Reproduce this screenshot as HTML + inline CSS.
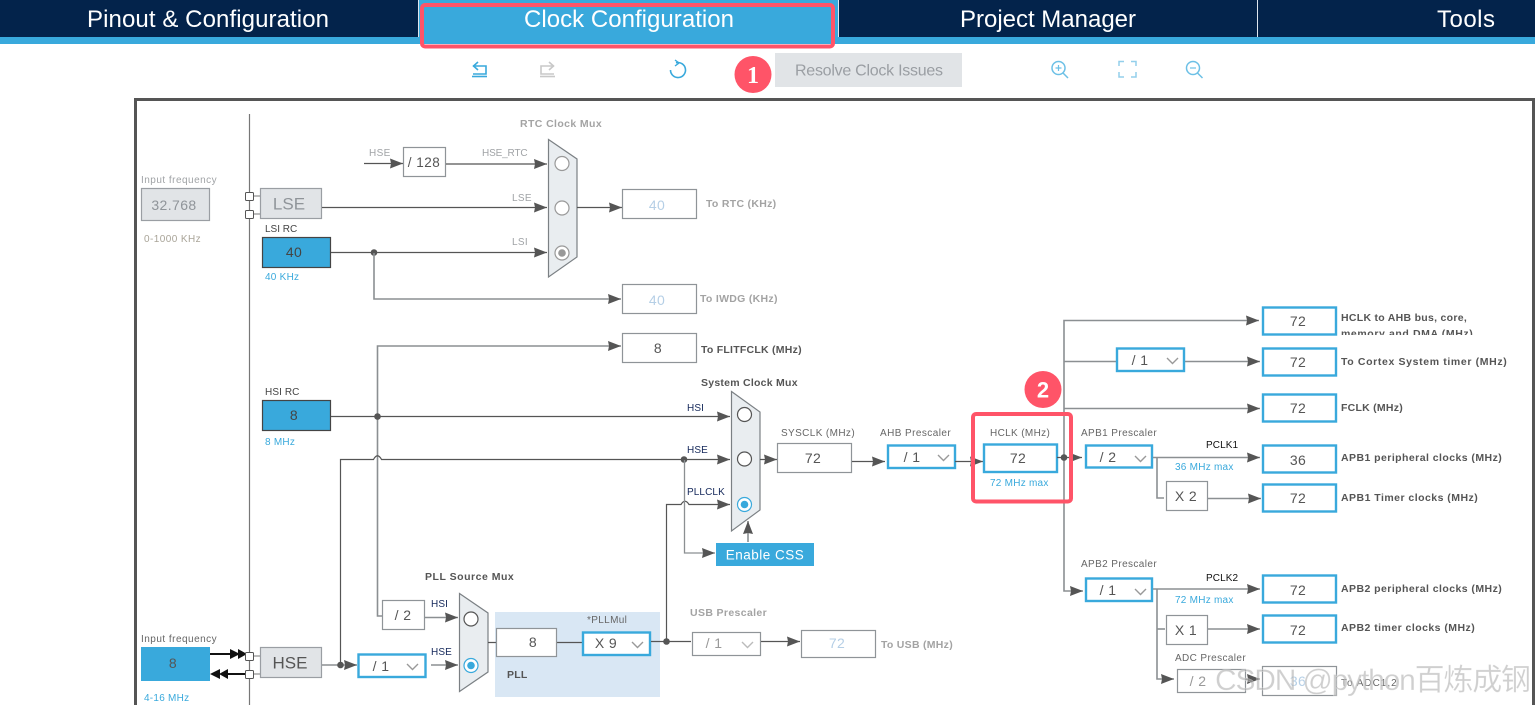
<!DOCTYPE html>
<html><head><meta charset="utf-8"><title>Clock Configuration</title>
<style>
html,body{margin:0;padding:0;background:#fff;width:1535px;height:705px;overflow:hidden}
svg{display:block}
text{font-family:"Liberation Sans","Noto Sans CJK SC",sans-serif}
.t{font-size:24px;fill:#fff}
.s{font-size:10px;fill:#666;letter-spacing:.35px}
.g{font-size:10px;fill:#a0a3a6;letter-spacing:.35px}
.n{font-size:10px;fill:#14285a;letter-spacing:.1px}
.bl{font-size:10px;fill:#39a9dc;letter-spacing:.25px}
.b{font-size:10.5px;font-weight:bold;fill:#555;letter-spacing:.25px}
.bg{font-size:10.5px;font-weight:bold;fill:#a3a3a3;letter-spacing:.3px}
.v{font-size:14px;fill:#555;text-anchor:middle;letter-spacing:.4px}
.vf{font-size:14px;fill:#b5cfe6;text-anchor:middle;letter-spacing:.4px}
.l{fill:none;stroke:#555;stroke-width:1.2}
.m{fill:none;stroke:#8b8f92;stroke-width:1.6}
.bx{fill:#fff;stroke:#8f9498;stroke-width:1.2}
.sel{fill:#fff;stroke:#39a9dc;stroke-width:2.4}
.mux{fill:#e9edf0;stroke:#7b8084;stroke-width:1.2}
.r{fill:#fff;stroke:#555;stroke-width:1.2}
.chev{fill:none;stroke:#999;stroke-width:1.4}
</style></head><body>
<svg width="1535" height="705" viewBox="0 0 1535 705" xmlns="http://www.w3.org/2000/svg">
<defs>
<marker id="a" markerUnits="userSpaceOnUse" markerWidth="14" markerHeight="10" refX="13" refY="5" orient="auto"><path d="M0 0L13 5L0 10L1 5Z" fill="#555"/></marker>
<clipPath id="c1"><rect x="1340" y="305" width="190" height="30"/></clipPath>
</defs>

<!-- header -->
<rect width="1535" height="37" fill="#03234b"/>
<rect y="37" width="1535" height="7" fill="#39a9dc"/>
<rect x="419" width="419" height="44" fill="#39a9dc"/>
<rect x="418" width="1" height="37" fill="#dfe6ee"/>
<rect x="838" width="1" height="37" fill="#dfe6ee"/>
<rect x="1257" width="1" height="37" fill="#dfe6ee"/>
<text class="t" x="87" y="27" textLength="242">Pinout &amp; Configuration</text>
<text class="t" x="524" y="27" textLength="210">Clock Configuration</text>
<text class="t" x="960" y="27" textLength="176">Project Manager</text>
<text class="t" x="1437" y="27" textLength="58">Tools</text>
<rect x="422" y="5" width="411" height="41.500" rx="3" fill="none" stroke="#ff5468" stroke-width="4"/>

<!-- toolbar -->
<g fill="none" stroke="#39a9dc" stroke-width="1.6">
<path d="M473 66H486V74H473"/><path d="M478 62L473.500 66L478 70"/><path d="M472 76.500H487"/>
<path d="M670.500 70A7.500 7.500 0 1 0 676 62.800"/><path d="M675 60L679 63L675 66" stroke-width="1.400"/>
</g>
<g fill="none" stroke="#c8c8c8" stroke-width="1.6">
<path d="M554 66H541V74H554"/><path d="M549 62L553.500 66L549 70"/><path d="M540 76.500H555"/>
</g>
<g fill="none" stroke="#6cc0e6" stroke-width="1.500">
<circle cx="1058.500" cy="68" r="6.500"/><path d="M1063 73L1068 78"/><path d="M1055.500 68H1061.500M1058.500 65V71" stroke-width="1.200"/>
<path d="M1119 66V61.500H1124M1131 61.500H1136V66M1136 72V77H1131M1124 77H1119V72" stroke="#93cfeb"/>
<circle cx="1193" cy="68" r="6.500"/><path d="M1197.500 73L1202.500 78"/><path d="M1190 68H1196" stroke-width="1.200"/>
</g>
<rect x="775" y="53" width="187" height="34" fill="#e1e4e7"/>
<text x="795" y="75.500" font-size="16" fill="#9a9ea3" textLength="148">Resolve Clock Issues</text>
<circle cx="753" cy="74.500" r="18.500" fill="#ff5468"/>
<text x="753" y="83" font-size="24" font-weight="bold" fill="#fff" text-anchor="middle" style="font-family:'Liberation Serif',serif">1</text>

<!-- frame -->
<path d="M135.500 705V99.500H1533.500V705" fill="none" stroke="#555" stroke-width="3"/>
<path d="M249.500 114V705" stroke="#777" stroke-width="1.200"/>

<!-- PLL background -->
<rect x="495" y="612" width="165" height="85" fill="#d9e7f4"/>

<!-- left top -->
<text class="g" x="141" y="183" textLength="76">Input frequency</text>
<rect x="141.500" y="188.500" width="68" height="32" fill="#e1e4e7" stroke="#9a9ea3" stroke-width="1.200"/>
<text class="v" x="174" y="210" style="fill:#8f9499">32.768</text>
<text x="144" y="242" class="g" style="fill:#a9a498" textLength="57">0-1000 KHz</text>
<path d="M253 196H261M253 214H261" stroke="#777"/>
<rect x="245.500" y="192.500" width="8" height="8" rx="1" fill="#fff" stroke="#555"/>
<rect x="245.500" y="210.500" width="8" height="8" rx="1" fill="#fff" stroke="#555"/>
<rect x="260.500" y="188.500" width="61" height="30" fill="#e1e4e7" stroke="#9a9ea3" stroke-width="1.200"/>
<text x="289" y="209.500" font-size="17" fill="#8f9499" text-anchor="middle">LSE</text>
<text class="s" x="265" y="232" style="fill:#444;letter-spacing:0">LSI RC</text>
<rect x="262.500" y="237.500" width="68" height="30" fill="#39a9dc" stroke="#444" stroke-width="1.200"/>
<text class="v" x="294" y="257" style="fill:#444">40</text>
<text class="bl" x="265" y="280">40 KHz</text>

<!-- RTC mux -->
<text class="bg" x="520" y="127" textLength="82">RTC Clock Mux</text>
<text class="g" x="369" y="156">HSE</text>
<path class="l" d="M364 163.500H403" marker-end="url(#a)"/>
<rect class="bx" x="403.500" y="147.500" width="42" height="29"/>
<text class="v" x="424" y="167" style="font-size:13.500px;letter-spacing:.5px">/ 128</text>
<text class="g" x="482" y="156" textLength="46">HSE_RTC</text>
<path class="l" d="M446 164H547" marker-end="url(#a)"/>
<text class="g" x="512" y="201">LSE</text>
<path class="l" d="M322 207.500H547" marker-end="url(#a)"/>
<text class="g" x="512" y="245">LSI</text>
<path class="l" d="M331 252.500H547" marker-end="url(#a)"/>
<circle cx="374" cy="252.500" r="3.300" fill="#555"/>
<path class="m" d="M374 253V299H621" marker-end="url(#a)"/>
<path class="mux" d="M548.500 139.500L577 159V257L548.500 277Z"/>
<g fill="#fff" stroke="#999" stroke-width="1.200"><circle cx="562" cy="163.500" r="7"/><circle cx="562" cy="208" r="7"/><circle cx="562" cy="253" r="7"/></g>
<circle cx="562" cy="253" r="3.800" fill="#999"/>
<path class="l" d="M577 207.500H622" marker-end="url(#a)"/>
<rect class="bx" x="622.500" y="189.500" width="74" height="29"/>
<text class="vf" x="657" y="210">40</text>
<text class="bg" x="706" y="207">To RTC (KHz)</text>
<rect class="bx" x="622.500" y="284.500" width="74" height="29"/>
<text class="vf" x="657" y="305">40</text>
<text class="bg" x="700" y="302">To IWDG (KHz)</text>

<!-- FLITF + HSI -->
<path class="m" d="M377.500 600V346H621" marker-end="url(#a)"/>
<rect class="bx" x="622.500" y="333.500" width="74" height="29"/>
<text class="v" x="658" y="353">8</text>
<text class="b" x="701" y="353">To FLITFCLK (MHz)</text>
<text class="n" x="265" y="395" style="fill:#444">HSI RC</text>
<rect x="262.500" y="400.500" width="68" height="30" fill="#39a9dc" stroke="#444" stroke-width="1.200"/>
<text class="v" x="294" y="420" style="fill:#444">8</text>
<text class="bl" x="265" y="445">8 MHz</text>
<path class="l" d="M331 416.500H730" marker-end="url(#a)"/>
<circle cx="377.500" cy="416.500" r="3.300" fill="#555"/>
<text class="n" x="687" y="411">HSI</text>
<path class="l" d="M340.500 665V459.500H373.500Q377.500 452 381.500 459.500H730" marker-end="url(#a)"/>
<circle cx="684" cy="459.500" r="3.300" fill="#555"/>
<text class="n" x="687" y="453">HSE</text>
<path class="l" d="M666.500 641V504.500H681Q685 498 689 504.500H730" marker-end="url(#a)"/>
<text class="n" x="687" y="495">PLLCLK</text>
<path class="m" d="M684.500 460V553H715" style="stroke-width:1.300" marker-end="url(#a)"/>
<rect x="716" y="543" width="98" height="23" fill="#39a9dc"/>
<text x="765" y="559.500" font-size="13.500" fill="#fff" text-anchor="middle" letter-spacing=".5">Enable CSS</text>
<path class="m" d="M748 542V521" marker-end="url(#a)"/>

<!-- system mux -->
<text class="b" x="701" y="386">System Clock Mux</text>
<path class="mux" d="M731.500 391.500L760 412V510L731.500 531Z"/>
<circle class="r" cx="744.500" cy="414.500" r="7"/>
<circle class="r" cx="744.500" cy="459" r="7"/>
<circle cx="744.500" cy="504.500" r="7" fill="#fff" stroke="#39a9dc" stroke-width="1.200"/>
<circle cx="744.500" cy="504.500" r="3.800" fill="#39a9dc"/>
<path class="l" d="M760 459.500H777" marker-end="url(#a)"/>
<text class="s" x="781" y="436" textLength="74">SYSCLK (MHz)</text>
<rect class="bx" x="777.500" y="443.500" width="74" height="29"/>
<text class="v" x="813" y="463">72</text>
<path class="l" d="M852 461.500H885" marker-end="url(#a)"/>
<text class="s" x="880" y="436" textLength="71">AHB Prescaler</text>
<rect class="sel" x="888" y="445.500" width="67" height="22.500"/>
<text class="v" x="912" y="462">/ 1</text>
<path class="chev" d="M938 455L943.500 460.500L949 455"/>
<path class="l" d="M955 461.500H983" marker-end="url(#a)"/>
<text class="s" x="990" y="436">HCLK (MHz)</text>
<rect class="sel" x="984" y="444.500" width="73" height="27.500"/>
<text class="v" x="1018" y="463">72</text>
<text class="bl" x="990" y="486">72 MHz max</text>

<!-- right side -->
<path class="m" d="M1064 460V320.500H1259" marker-end="url(#a)"/>
<path class="m" d="M1064 361.500H1116"/>
<path class="m" d="M1185 361.500H1260" marker-end="url(#a)"/>
<path class="m" d="M1064 408.500H1260" marker-end="url(#a)"/>
<path class="m" d="M1064 455V591H1083" marker-end="url(#a)"/>
<path class="l" d="M1057 457.500H1082" marker-end="url(#a)"/>
<circle cx="1064" cy="457.500" r="3.300" fill="#555"/>
<rect class="sel" x="1117" y="348.500" width="67" height="22.500"/>
<text class="v" x="1140" y="365">/ 1</text>
<path class="chev" d="M1167 358L1172.500 363.500L1178 358"/>
<text class="s" x="1081" y="436" textLength="76">APB1 Prescaler</text>
<rect class="sel" x="1086" y="445.500" width="66" height="22"/>
<text class="v" x="1108" y="462">/ 2</text>
<path class="chev" d="M1135 456L1140.500 461.500L1146 456"/>
<text class="n" x="1206" y="448" style="fill:#111">PCLK1</text>
<path class="m" d="M1153 457.500H1260" marker-end="url(#a)"/>
<text class="bl" x="1175" y="470">36 MHz max</text>
<path class="m" d="M1157 458V498H1164"/>
<rect class="bx" x="1166.500" y="481.500" width="41" height="29"/>
<text class="v" x="1186" y="501">X 2</text>
<path class="m" d="M1208 498.500H1261" marker-end="url(#a)"/>
<text class="s" x="1081" y="567" textLength="76">APB2 Prescaler</text>
<rect class="sel" x="1086" y="578.500" width="66" height="22.500"/>
<text class="v" x="1108" y="595">/ 1</text>
<path class="chev" d="M1135 589L1140.500 594.500L1146 589"/>
<text class="n" x="1206" y="581" style="fill:#111">PCLK2</text>
<path class="m" d="M1153 589H1260" marker-end="url(#a)"/>
<text class="bl" x="1175" y="603">72 MHz max</text>
<path class="m" d="M1157 589V679H1174" marker-end="url(#a)"/>
<path class="m" d="M1157 629H1165"/>
<rect class="bx" x="1166.500" y="615.500" width="41" height="29"/>
<text class="v" x="1186" y="635">X 1</text>
<path class="m" d="M1208 629H1260" marker-end="url(#a)"/>
<text class="s" x="1175" y="661" textLength="71">ADC Prescaler</text>
<rect class="bx" x="1177.500" y="669.500" width="68" height="23"/>
<text class="v" x="1198" y="686" style="fill:#999">/ 2</text>
<path class="l" d="M1246 679H1260" marker-end="url(#a)"/>
<rect class="bx" x="1262.500" y="666.500" width="74" height="29"/>
<text class="vf" x="1298" y="686">36</text>
<text class="g" x="1341" y="686" style="fill:#666" textLength="56">To ADC1,2</text>

<g class="outs" fill="#fff" stroke="#39a9dc" stroke-width="2.400">
<rect x="1263" y="307.500" width="73" height="27"/>
<rect x="1263" y="348.500" width="73" height="27"/>
<rect x="1263" y="394.500" width="73" height="27"/>
<rect x="1263" y="445.500" width="73" height="27"/>
<rect x="1263" y="484.500" width="73" height="27"/>
<rect x="1263" y="575.500" width="73" height="27"/>
<rect x="1263" y="615.500" width="73" height="27"/>
</g>
<text class="v" x="1298" y="326">72</text>
<text class="v" x="1298" y="367">72</text>
<text class="v" x="1298" y="413">72</text>
<text class="v" x="1298" y="465">36</text>
<text class="v" x="1298" y="503">72</text>
<text class="v" x="1298" y="595">72</text>
<text class="v" x="1298" y="635">72</text>
<g clip-path="url(#c1)"><text class="b" x="1341" y="321" textLength="126">HCLK to AHB bus, core,</text><text class="b" x="1341" y="337" textLength="132">memory and DMA (MHz)</text></g>
<text class="b" x="1341" y="365" textLength="166">To Cortex System timer (MHz)</text>
<text class="b" x="1341" y="411" textLength="62">FCLK (MHz)</text>
<text class="b" x="1341" y="461" textLength="161">APB1 peripheral clocks (MHz)</text>
<text class="b" x="1341" y="501" textLength="137">APB1 Timer clocks (MHz)</text>
<text class="b" x="1341" y="592" textLength="161">APB2 peripheral clocks (MHz)</text>
<text class="b" x="1341" y="631" textLength="134">APB2 timer clocks (MHz)</text>

<!-- bottom left -->
<text class="s" x="141" y="642" textLength="76">Input frequency</text>
<rect x="141" y="647" width="69" height="34" fill="#39a9dc"/>
<text class="v" x="173" y="668">8</text>
<text class="bl" x="144" y="701">4-16 MHz</text>
<path d="M210 654H232" stroke="#111" stroke-width="2"/>
<path d="M230 649L240 654L230 659ZM238 649L247 654L238 659Z" fill="#111"/>
<path d="M227 674H248" stroke="#111" stroke-width="2"/>
<path d="M220 669L210 674L220 679ZM228 669L219 674L228 679Z" fill="#111"/>
<path d="M253 656H261M253 674H261" stroke="#777"/>
<rect x="245.500" y="652.500" width="8" height="8" rx="1" fill="#fff" stroke="#555"/>
<rect x="245.500" y="670.500" width="8" height="8" rx="1" fill="#fff" stroke="#555"/>
<rect x="260.500" y="647.500" width="61" height="30" fill="#e1e4e7" stroke="#9a9ea3" stroke-width="1.200"/>
<text x="290" y="668.500" font-size="17" fill="#555" text-anchor="middle">HSE</text>
<path class="m" d="M322 665H357" marker-end="url(#a)"/>
<circle cx="340.500" cy="665" r="3.300" fill="#555"/>
<rect class="sel" x="358.500" y="654.500" width="67" height="22.500"/>
<text class="v" x="381" y="671">/ 1</text>
<path class="chev" d="M407 664L412.500 669.500L418 664"/>
<path class="m" d="M431 665H458" marker-end="url(#a)"/>
<text class="n" x="431" y="655">HSE</text>
<path class="m" d="M377.500 600V616H382"/>
<rect class="bx" x="382.500" y="600.500" width="42" height="29"/>
<text class="v" x="403" y="620">/ 2</text>
<path class="m" d="M425 617.500H458" marker-end="url(#a)"/>
<text class="n" x="431" y="607">HSI</text>
<text class="b" x="425" y="580" textLength="89">PLL Source Mux</text>
<path class="mux" d="M459.500 593.500L488 613V672L459.500 691.500Z"/>
<circle class="r" cx="471" cy="619" r="7"/>
<circle cx="471" cy="665.500" r="7" fill="#fff" stroke="#39a9dc" stroke-width="1.200"/>
<circle cx="471" cy="665.500" r="3.800" fill="#39a9dc"/>
<path class="l" d="M488 642.500H496M556 642.500H583"/>
<rect class="bx" x="496.500" y="628.500" width="60" height="28"/>
<text class="v" x="533" y="647">8</text>
<text class="s" x="587" y="623">*PLLMul</text>
<rect class="sel" x="583" y="632.500" width="67" height="22.500"/>
<text class="v" x="606" y="648">X 9</text>
<path class="chev" d="M632 642L637.500 647.500L643 642"/>
<text class="b" x="507" y="678">PLL</text>
<path class="l" d="M651 641.500H691"/>
<circle cx="666.500" cy="641.500" r="3.300" fill="#555"/>
<text class="bg" x="690" y="616" textLength="77">USB Prescaler</text>
<rect class="bx" x="692.500" y="632.500" width="68" height="23"/>
<text class="v" x="714" y="648" style="fill:#999">/ 1</text>
<path class="chev" d="M742 642L747.500 647.500L753 642" style="stroke:#bbb"/>
<path class="l" d="M761 641.500H800" marker-end="url(#a)"/>
<rect class="bx" x="801.500" y="630.500" width="74" height="27"/>
<text class="vf" x="837" y="648">72</text>
<text class="bg" x="881" y="648" textLength="72">To USB (MHz)</text>

<!-- HCLK highlight -->
<rect x="973" y="414" width="98" height="87.500" rx="3" fill="none" stroke="#ff5468" stroke-width="4"/>
<circle cx="1043" cy="389.500" r="18.500" fill="#ff5468"/>
<text x="1043" y="397.500" font-size="22" font-weight="bold" fill="#fff" text-anchor="middle">2</text>

<!-- watermark -->
<text x="1215" y="690" font-size="30" fill="rgba(175,175,175,.6)" stroke="rgba(255,255,255,.5)" stroke-width=".5" textLength="316">CSDN @python百炼成钢</text>
</svg>
</body></html>
